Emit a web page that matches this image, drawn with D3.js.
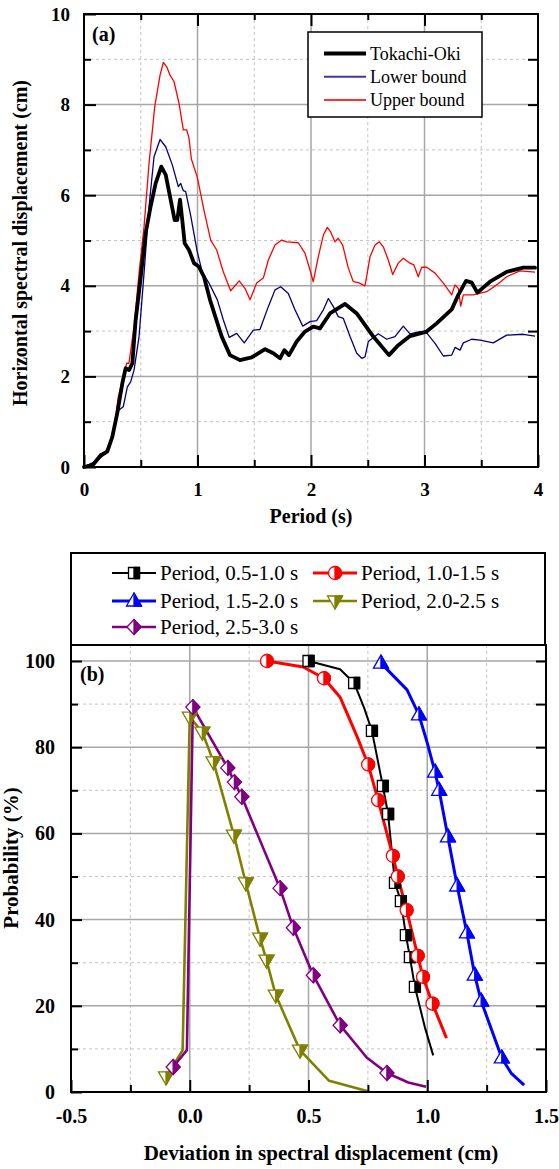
<!DOCTYPE html>
<html>
<head>
<meta charset="utf-8">
<script src="https://cdn.jsdelivr.net/npm/d3@7"></script>
<style>
  body { margin: 0; background: #fff; }
  svg { display: block; }
</style>
</head>
<body>
<div id="chart"></div>
<script>
(function (d3) {
  'use strict';

  // ---- (a) spectra: [period s, displacement cm]
  const tokachiOki = [[0,0],[0.08,0.05],[0.147,0.26],[0.205,0.34],[0.25,0.67],[0.293,1.19],[0.338,1.85],[0.367,2.18],
    [0.397,2.14],[0.426,2.29],[0.455,3.24],[0.5,4.2],[0.543,5.16],[0.587,5.75],[0.631,6.26],[0.681,6.63],[0.72,6.45],
    [0.758,5.97],[0.799,5.45],[0.822,5.45],[0.846,5.9],[0.866,5.45],[0.887,4.94],[0.925,4.79],[0.969,4.5],[1.013,4.42],
    [1.057,4.2],[1.11,3.69],[1.213,2.88],[1.286,2.47],[1.374,2.36],[1.477,2.42],[1.595,2.6],[1.668,2.51],[1.727,2.4],
    [1.765,2.58],[1.806,2.47],[1.874,2.77],[1.947,2.99],[2.02,3.1],[2.079,3.06],[2.167,3.39],[2.3,3.6],[2.403,3.39],
    [2.549,2.88],[2.687,2.47],[2.769,2.69],[2.872,2.89],[3.019,2.99],[3.107,3.17],[3.24,3.48],[3.298,3.8],[3.366,4.11],
    [3.416,4.07],[3.466,3.85],[3.577,4.09],[3.724,4.31],[3.87,4.4],[3.974,4.4]];

  const lowerBound = [[0,0],[0.117,0.15],[0.191,0.3],[0.235,0.56],[0.279,1.07],[0.308,1.26],[0.346,1.33],[0.382,1.77],
    [0.411,1.88],[0.441,2.14],[0.485,2.88],[0.529,4.28],[0.573,5.75],[0.617,6.85],[0.67,7.23],[0.72,7.07],[0.778,6.67],
    [0.831,6.19],[0.852,6.26],[0.875,6.1],[0.896,6.08],[0.94,5.55],[0.998,4.75],[1.042,4.3],[1.101,4.06],[1.175,3.69],
    [1.227,3.25],[1.28,2.86],[1.345,2.95],[1.412,2.74],[1.492,3.02],[1.551,3.04],[1.624,3.54],[1.683,3.91],[1.733,3.98],
    [1.8,3.83],[1.859,3.47],[1.927,3.11],[1.991,3.21],[2.05,3.23],[2.109,3.47],[2.153,3.72],[2.197,3.54],[2.24,3.32],
    [2.285,3.28],[2.344,2.88],[2.403,2.51],[2.447,2.4],[2.476,2.43],[2.505,2.77],[2.593,2.94],[2.667,2.82],[2.74,2.88],
    [2.813,3.11],[2.872,2.94],[2.96,2.99],[3.019,2.96],[3.093,2.73],[3.166,2.45],[3.24,2.47],[3.269,2.64],[3.313,2.58],
    [3.342,2.74],[3.416,2.82],[3.489,2.8],[3.606,2.74],[3.724,2.91],[3.87,2.93],[3.974,2.89]];

  const upperBound = [[0,0],[0.1,0.1],[0.18,0.3],[0.229,0.53],[0.273,0.97],[0.302,1.55],[0.332,1.85],[0.355,2.07],
    [0.376,2.29],[0.396,2.29],[0.441,3.1],[0.485,4.28],[0.529,5.3],[0.573,6.7],[0.623,7.95],[0.67,8.65],[0.699,8.93],
    [0.728,8.84],[0.758,8.65],[0.793,8.51],[0.837,8.03],[0.875,7.44],[0.905,7.44],[0.925,7.26],[0.946,6.8],[0.998,6.4],
    [1.057,5.67],[1.116,5.01],[1.169,4.79],[1.227,4.31],[1.292,3.89],[1.368,4.11],[1.419,3.94],[1.463,3.69],[1.521,4.06],
    [1.58,4.17],[1.624,4.57],[1.683,4.9],[1.742,5.01],[1.786,4.97],[1.888,4.95],[1.947,4.72],[1.991,4.35],[2.02,4.09],
    [2.064,4.64],[2.109,5.12],[2.144,5.29],[2.173,5.19],[2.211,4.97],[2.24,5.05],[2.279,4.9],[2.329,4.39],[2.373,4.09],
    [2.417,4.07],[2.476,4.0],[2.52,4.64],[2.564,4.9],[2.602,4.97],[2.637,4.86],[2.681,4.57],[2.72,4.25],[2.769,4.5],
    [2.813,4.61],[2.872,4.5],[2.907,4.46],[2.945,4.2],[2.975,4.41],[3.019,4.41],[3.093,4.28],[3.166,4.06],[3.24,3.8],
    [3.269,4.02],[3.298,3.94],[3.319,3.55],[3.342,3.8],[3.43,3.8],[3.466,3.82],[3.548,3.87],[3.636,4.02],[3.724,4.2],
    [3.841,4.33],[3.974,4.3]];

  const seriesA = ['Tokachi-Oki', 'Lower bound', 'Upper bound'];
  const xTicksA = [0, 1, 2, 3, 4];
  const yTicksA = [0, 2, 4, 6, 8, 10];

  // ---- (b) deviation vs probability: [deviation cm, probability %, marker?]
  const p05to10 = [[0.5,100,1],[0.633,98.1,0],[0.692,94.9,1],[0.735,89,0],[0.767,83.8,1],[0.813,71,1],[0.835,64.5,1],
    [0.864,48.5,1],[0.889,44.3,1],[0.91,36.4,1],[0.927,31.3,1],[0.948,24.4,1],[0.99,15,0],[1.025,8.5,0]];
  const p10to15 = [[0.325,100,1],[0.478,98.6,0],[0.565,96,1],[0.633,91.6,0],[0.705,82.4,0],[0.751,76,1],[0.793,67.7,1],
    [0.855,54.8,1],[0.876,50,1],[0.913,42.2,1],[0.96,31.6,1],[0.982,26.7,1],[1.022,20.5,1],[1.081,12.5,0]];
  const p15to20 = [[0.805,99.5,1],[0.915,93.3,0],[0.965,87.5,1],[1.0,81,0],[1.033,74.2,1],[1.05,70,1],[1.087,59.2,1],
    [1.126,47.8,1],[1.167,36.9,1],[1.2,27.1,1],[1.227,21.1,1],[1.314,7.9,1],[1.353,4.4,0],[1.408,1.6,0]];
  const p20to25 = [[-0.1,3.5,1],[-0.03,9.7,0],[0.0,87,1],[0.053,83.5,1],[0.1,76.6,1],[0.186,59.6,1],[0.236,48.5,1],
    [0.296,35.7,1],[0.323,30.6,1],[0.362,22.5,1],[0.464,9.7,1],[0.587,2.6,0],[0.75,0.2,0]];
  const p25to30 = [[-0.07,5.8,1],[-0.012,9.7,0],[0.013,89.3,1],[0.16,75.2,1],[0.188,71.9,1],[0.219,68.5,1],[0.38,47.3,1],
    [0.436,38.1,1],[0.52,27.1,1],[0.633,15.5,1],[0.745,8,0],[0.83,4.4,1],[0.92,2.2,0],[0.995,1.2,0]];

  const seriesB = ['Period, 0.5-1.0 s', 'Period, 1.0-1.5 s', 'Period, 1.5-2.0 s', 'Period, 2.0-2.5 s', 'Period, 2.5-3.0 s'];
  const xTicksB = [-0.5, 0, 0.5, 1, 1.5];
  const yTicksB = [0, 20, 40, 60, 80, 100];

  const FONT = '"Liberation Serif","Times New Roman",serif';

  const svg = d3.select('#chart').append('svg')
    .attr('width', 559)
    .attr('height', 1169);

  svg.append('rect').attr('width', 559).attr('height', 1169).attr('fill', '#fff');

  function grid(g, x, y, xs, ys, major) {
    const col = major ? '#a6a6a6' : '#c4c4c4';
    g.selectAll(null).data(xs).enter().append('line')
      .attr('x1', d => x(d)).attr('x2', d => x(d))
      .attr('y1', y.range()[0]).attr('y2', g.attr('data-top'))
      .attr('stroke', col).attr('stroke-width', major ? 1.5 : 1)
      .attr('stroke-dasharray', major ? null : '3,3');
    g.selectAll(null).data(ys).enter().append('line')
      .attr('y1', d => y(d)).attr('y2', d => y(d))
      .attr('x1', x.range()[0]).attr('x2', x.range()[1])
      .attr('stroke', col).attr('stroke-width', major ? 1.5 : 1)
      .attr('stroke-dasharray', major ? null : '3,3');
  }

  function axis(gen, tr, vals, size, fmt, pad, fs) {
    const a = svg.append('g').attr('transform', tr)
      .call(gen.tickValues(vals).tickSizeInner(size).tickSizeOuter(0)
        .tickPadding(pad || 3).tickFormat(fmt || (() => '')));
    a.select('.domain').remove();
    a.selectAll('line').attr('stroke', '#000').attr('stroke-width', 2);
    a.selectAll('text').attr('font-family', FONT).attr('font-weight', 'bold')
      .attr('font-size', fs || 10).attr('fill', '#000');
    return a;
  }

  function label(txt, x, y, fs, opts) {
    opts = opts || {};
    const t = svg.append('text').text(txt)
      .attr('font-family', FONT).attr('font-size', fs)
      .attr('font-weight', opts.normal ? 'normal' : 'bold')
      .attr('fill', '#000')
      .attr('text-anchor', opts.anchor || 'start');
    if (opts.rotate) t.attr('transform', 'translate(' + x + ',' + y + ') rotate(-90)');
    else t.attr('x', x).attr('y', y);
    return t;
  }

  // ================= (a) =================
  const xA = d3.scaleLinear().domain([0, 4]).range([84, 538]);
  const yA = d3.scaleLinear().domain([0, 10]).range([467, 14]);

  const gA = svg.append('g').attr('data-top', 14);
  grid(gA, xA, yA, [0.5, 1.5, 2.5, 3.5], [1, 3, 5, 7, 9], false);
  grid(gA, xA, yA, [1, 2, 3], [2, 4, 6, 8], true);

  const lineA = d3.line().x(d => xA(d[0])).y(d => yA(d[1]));
  svg.append('path').datum(upperBound).attr('d', lineA)
    .attr('fill', 'none').attr('stroke', '#ff0000').attr('stroke-width', 1.3).attr('stroke-linejoin', 'round');
  svg.append('path').datum(lowerBound).attr('d', lineA)
    .attr('fill', 'none').attr('stroke', '#000080').attr('stroke-width', 1.3).attr('stroke-linejoin', 'round');
  svg.append('path').datum(tokachiOki).attr('d', lineA)
    .attr('fill', 'none').attr('stroke', '#000').attr('stroke-width', 3.8)
    .attr('stroke-linejoin', 'round').attr('stroke-linecap', 'round');

  axis(d3.axisLeft(yA), 'translate(84,0)', yTicksA, -12, d => d, 14, 19);
  axis(d3.axisLeft(yA), 'translate(84,0)', [1, 3, 5, 7, 9], -7);
  axis(d3.axisRight(yA), 'translate(538,0)', [1, 2, 3, 4, 5, 6, 7, 8, 9], -10);
  axis(d3.axisBottom(xA), 'translate(0,467)', xTicksA, -12, d => d, 16, 19);
  axis(d3.axisBottom(xA), 'translate(0,467)', [0.5, 1.5, 2.5, 3.5], -7);
  axis(d3.axisTop(xA), 'translate(0,14)', [1, 2, 3], -12);
  axis(d3.axisTop(xA), 'translate(0,14)', [0.5, 1.5, 2.5, 3.5], -6);

  svg.append('rect').attr('x', 84).attr('y', 14).attr('width', 454).attr('height', 453)
    .attr('fill', 'none').attr('stroke', '#000').attr('stroke-width', 2);

  label('(a)', 92, 41, 20);
  label('Period (s)', 311, 523, 20, { anchor: 'middle' });
  label('Horizontal spectral displacement (cm)', 27, 243, 20, { anchor: 'middle', rotate: true });

  // legend (a)
  const legA = svg.append('g');
  legA.append('rect').attr('x', 308).attr('y', 32).attr('width', 174).attr('height', 85)
    .attr('fill', '#fff').attr('stroke', '#000').attr('stroke-width', 1.5);
  const legStyle = [['#000', 4], ['#3a3aa0', 2], ['#ff3030', 2]];
  legA.selectAll(null).data(seriesA).enter().append('line')
    .attr('x1', 324).attr('x2', 366)
    .attr('y1', (d, i) => 53.5 + i * 23.2).attr('y2', (d, i) => 53.5 + i * 23.2)
    .attr('stroke', (d, i) => legStyle[i][0]).attr('stroke-width', (d, i) => legStyle[i][1]);
  legA.selectAll(null).data(seriesA).enter().append('text')
    .attr('x', 370).attr('y', (d, i) => 59.5 + i * 23.2)
    .attr('font-family', FONT).attr('font-size', 18).attr('fill', '#000')
    .text(d => d);

  // ================= (b) =================
  const xB = d3.scaleLinear().domain([-0.5, 1.5]).range([71, 546]);
  const yB = d3.scaleLinear().domain([0, 100]).range([1092, 661]);

  const gB = svg.append('g').attr('data-top', 645);
  grid(gB, xB, yB, [-0.25, 0.25, 0.75, 1.25], [10, 30, 50, 70, 90], false);
  grid(gB, xB, yB, [0, 0.5, 1], [20, 40, 60, 80, 100], true);

  const seriesDefs = [
    { data: p05to10, color: '#000000', shape: 'square', w: 2 },
    { data: p10to15, color: '#ff0000', shape: 'circle', w: 3 },
    { data: p15to20, color: '#0000ff', shape: 'tri-up', w: 3 },
    { data: p20to25, color: '#808000', shape: 'tri-down', w: 2.6 },
    { data: p25to30, color: '#800080', shape: 'diamond', w: 2.6 }
  ];

  function shapePaths(shape, cx, cy) {
    // outline + right (filled) half
    if (shape === 'square') {
      const h = 5.5;
      return [
        `M${cx - h},${cy - h}H${cx + h}V${cy + h}H${cx - h}Z`,
        `M${cx},${cy - h}H${cx + h}V${cy + h}H${cx}Z`
      ];
    }
    if (shape === 'circle') {
      const r = 6.5;
      return [
        `M${cx},${cy - r}A${r},${r} 0 1,1 ${cx},${cy + r}A${r},${r} 0 1,1 ${cx},${cy - r}Z`,
        `M${cx},${cy - r}A${r},${r} 0 0,1 ${cx},${cy + r}Z`
      ];
    }
    if (shape === 'tri-up') {
      const w = 7.5;
      return [
        `M${cx},${cy - 8}L${cx + w},${cy + 5}L${cx - w},${cy + 5}Z`,
        `M${cx},${cy - 8}L${cx + w},${cy + 5}L${cx},${cy + 5}Z`
      ];
    }
    if (shape === 'tri-down') {
      const w = 7.5;
      return [
        `M${cx - w},${cy - 5}L${cx + w},${cy - 5}L${cx},${cy + 8}Z`,
        `M${cx},${cy - 5}L${cx + w},${cy - 5}L${cx},${cy + 8}Z`
      ];
    }
    const w = 7, h = 7.5;
    return [
      `M${cx},${cy - h}L${cx + w},${cy}L${cx},${cy + h}L${cx - w},${cy}Z`,
      `M${cx},${cy - h}L${cx + w},${cy}L${cx},${cy + h}Z`
    ];
  }

  function marker(g, shape, color, cx, cy) {
    const p = shapePaths(shape, cx, cy);
    g.append('path').attr('d', p[0]).attr('fill', '#fff').attr('stroke', color).attr('stroke-width', 1.3);
    g.append('path').attr('d', p[1]).attr('fill', color).attr('stroke', color).attr('stroke-width', 1.3)
      .attr('stroke-linejoin', 'round');
  }

  const lineB = d3.line().x(d => xB(d[0])).y(d => yB(d[1]));
  seriesDefs.forEach(s => {
    svg.append('path').datum(s.data).attr('d', lineB)
      .attr('fill', 'none').attr('stroke', s.color).attr('stroke-width', s.w)
      .attr('stroke-linejoin', 'round');
  });
  seriesDefs.forEach(s => {
    const g = svg.append('g');
    s.data.filter(d => d[2]).forEach(d => marker(g, s.shape, s.color, xB(d[0]), yB(d[1])));
  });

  axis(d3.axisLeft(yB), 'translate(71,0)', yTicksB, -11, d => d, 16, 20);
  axis(d3.axisLeft(yB), 'translate(71,0)', [10, 30, 50, 70, 90], -7);
  axis(d3.axisRight(yB), 'translate(546,0)', [10, 20, 30, 40, 50, 60, 70, 80, 90, 100], -10);
  axis(d3.axisBottom(xB), 'translate(0,1092)', xTicksB, -12, d => d.toFixed(1), 17, 20);
  axis(d3.axisBottom(xB), 'translate(0,1092)', [-0.25, 0.25, 0.75, 1.25], -7);

  svg.append('rect').attr('x', 71).attr('y', 645).attr('width', 475).attr('height', 447)
    .attr('fill', 'none').attr('stroke', '#000').attr('stroke-width', 2);

  label('(b)', 80, 681, 20);
  label('Deviation in spectral displacement (cm)', 321, 1160, 21, { anchor: 'middle' });
  label('Probability (%)', 18, 858, 21, { anchor: 'middle', rotate: true });

  // legend (b)
  const legB = svg.append('g');
  legB.append('rect').attr('x', 71).attr('y', 553).attr('width', 474).attr('height', 92)
    .attr('fill', '#fff').attr('stroke', '#000').attr('stroke-width', 2);
  const legPos = [[112, 573], [313, 573], [112, 601], [313, 601], [112, 627]];
  seriesB.forEach((name, i) => {
    const s = seriesDefs[i];
    const x0 = legPos[i][0], y0 = legPos[i][1];
    legB.append('line').attr('x1', x0).attr('x2', x0 + 44).attr('y1', y0).attr('y2', y0)
      .attr('stroke', s.color).attr('stroke-width', s.w);
    marker(legB, s.shape, s.color, x0 + 22, y0);
    legB.append('text').attr('x', x0 + 48).attr('y', y0 + 7)
      .attr('font-family', FONT).attr('font-size', 21).attr('fill', '#000')
      .text(name);
  });
})(d3);
</script>
</body>
</html>
